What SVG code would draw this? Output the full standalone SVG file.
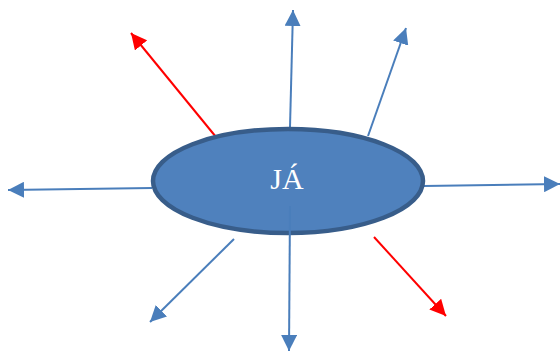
<svg xmlns="http://www.w3.org/2000/svg" width="560" height="351" viewBox="0 0 560 351">
<defs>
<style>
.b{stroke:#4A7EBB;stroke-width:2;fill:none;marker-end:url(#ab)}
.r{stroke:#FF0000;stroke-width:2;fill:none;marker-end:url(#ar)}
</style>
<marker id="ab" markerUnits="userSpaceOnUse" markerWidth="16" markerHeight="16" refX="16" refY="8" orient="auto" viewBox="0 0 16 16"><path d="M0,0 L16,8 L0,16 Z" fill="#4A7EBB"/></marker>
<marker id="ar" markerUnits="userSpaceOnUse" markerWidth="16" markerHeight="16" refX="16" refY="8" orient="auto" viewBox="0 0 16 16"><path d="M0,0 L16,8 L0,16 Z" fill="#FF0000"/></marker>
</defs>
<g id="connectors">
<line class="r" x1="216" y1="137" x2="131" y2="33"/>
<line class="b" x1="290" y1="127" x2="293" y2="10"/>
<line class="b" x1="368" y1="136" x2="406" y2="28"/>
<line class="b" x1="152" y1="188" x2="8" y2="190"/>
<line class="b" x1="234" y1="239" x2="150" y2="322"/>
<line class="b" x1="424" y1="186" x2="560" y2="184"/>
<line class="r" x1="374" y1="237" x2="446" y2="316"/>
</g>
<g id="ja">
<ellipse cx="288" cy="181" rx="135" ry="52" fill="#4F81BD" stroke="#385D8A" stroke-width="4.5"/>
<text x="287" y="189" text-anchor="middle" font-family="Liberation Serif, serif" font-size="30" fill="#FFFFFF">JÁ</text>
</g>
<g id="connectors-top">
<line class="b" x1="290" y1="206" x2="289" y2="351"/>
</g>
</svg>
